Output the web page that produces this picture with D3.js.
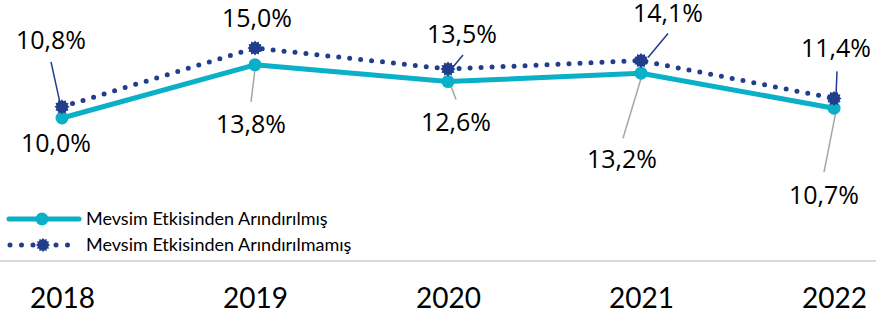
<!DOCTYPE html>
<html>
<head>
<meta charset="utf-8">
<script src="https://cdn.jsdelivr.net/npm/d3@7"></script>
<style>
  body { margin: 0; background: #fff; }
  svg { display: block; font-family: Lato, "Open Sans", sans-serif; }
</style>
</head>
<body>
<div id="chart"></div>
<script>
const years = ["2018", "2019", "2020", "2021", "2022"];
const adjusted = [10.0, 13.8, 12.6, 13.2, 10.7];     // Mevsim Etkisinden Arındırılmış
const unadjusted = [10.8, 15.0, 13.5, 14.1, 11.4];   // Mevsim Etkisinden Arındırılmamış
const seriesNames = ["Mevsim Etkisinden Arındırılmış", "Mevsim Etkisinden Arındırılmamış"];

const width = 876, height = 316;
const cyan = "#0aafc8", navy = "#213e8c";

// label placement: [dx, dy of baseline] from the point, leader [x1,y1,x2,y2] relative to point (null = none)
const adjLabelPos = [[-6, 34, null], [-4, 68, [-4, 37, 0, 4]], [8, 49, [8, 18, 2, 2]], [-19, 95, [-18, 65, 1, 2]], [-10, 96, [-10, 64, 2, 3]]];
const unadjLabelPos = [[-11, -58, [-11, -45, -2, -4]], [2, -21, null], [14, -26, [15, -14, 5, -2]], [27, -39, [27, -27, 7, -3]], [2, -41, [3, -27, 2, -3]]];

const svg = d3.select("#chart").append("svg")
  .attr("width", width).attr("height", height);

const x = d3.scalePoint().domain(years).range([62, 834]);
const y = d3.scaleLinear().domain([0, 18]).range([258, 6]);

// baseline
svg.append("line")
  .attr("x1", 0).attr("x2", width)
  .attr("y1", 261).attr("y2", 261)
  .attr("stroke", "#d9d9d9").attr("stroke-width", 2);

// x axis labels
const xAxis = d3.axisBottom(x).tickSize(0).tickPadding(0);
const gx = svg.append("g").attr("transform", "translate(0,288)").call(xAxis);
gx.select(".domain").remove();
gx.selectAll("text")
  .attr("font-family", "Lato, sans-serif")
  .attr("font-size", 28).attr("fill", "#000").attr("dy", "0.71em");

function gear(r1, r2, n) {
  const pts = [];
  for (let i = 0; i < n * 2; i++) {
    const a = Math.PI * i / n;
    const r = i % 2 ? r2 : r1;
    pts.push([Math.sin(a) * r, -Math.cos(a) * r]);
  }
  return d3.line().curve(d3.curveLinearClosed)(pts);
}

const line = d3.line().x((d, i) => x(years[i])).y(d => y(d));

// leaders
function leaders(vals, pos, color) {
  svg.append("g").selectAll("line")
    .data(vals.map((v, i) => ({ v, i, p: pos[i] })).filter(d => d.p[2]))
    .join("line")
    .attr("x1", d => x(years[d.i]) + d.p[2][0])
    .attr("y1", d => y(d.v) + d.p[2][1])
    .attr("x2", d => x(years[d.i]) + d.p[2][2])
    .attr("y2", d => y(d.v) + d.p[2][3])
    .attr("stroke", color).attr("stroke-width", 1.5);
}
leaders(adjusted, adjLabelPos, "#a6a6a6");
leaders(unadjusted, unadjLabelPos, navy);

// adjusted series
svg.append("path").datum(adjusted)
  .attr("d", line).attr("fill", "none")
  .attr("stroke", cyan).attr("stroke-width", 5).attr("stroke-linejoin", "round");
svg.append("g").selectAll("circle").data(adjusted).join("circle")
  .attr("cx", (d, i) => x(years[i])).attr("cy", d => y(d))
  .attr("r", 6.5).attr("fill", cyan);

// unadjusted series
svg.append("path").datum(unadjusted)
  .attr("d", line).attr("fill", "none")
  .attr("stroke", navy).attr("stroke-width", 5)
  .attr("stroke-linecap", "round").attr("stroke-dasharray", "0 11");
svg.append("g").selectAll("path").data(unadjusted).join("path")
  .attr("d", gear(7.5, 5.8, 12))
  .attr("transform", (d, i) => `translate(${x(years[i])},${y(d)})`)
  .attr("fill", navy);

// data labels
const fmt = v => v.toFixed(1).replace(".", ",") + "%";
function labels(vals, pos) {
  svg.append("g").selectAll("text").data(vals).join("text")
    .attr("x", (d, i) => x(years[i]) + pos[i][0])
    .attr("y", (d, i) => y(d) + pos[i][1])
    .attr("text-anchor", "middle")
    .attr("font-family", "'Open Sans', sans-serif")
    .attr("font-size", 25).attr("fill", "#000")
    .text(fmt);
}
labels(adjusted, adjLabelPos);
labels(unadjusted, unadjLabelPos);

// legend
const lg = svg.append("g");
lg.append("line").attr("x1", 9).attr("x2", 79).attr("y1", 219).attr("y2", 219)
  .attr("stroke", cyan).attr("stroke-width", 5).attr("stroke-linecap", "round");
lg.append("circle").attr("cx", 42).attr("cy", 219).attr("r", 6.5).attr("fill", cyan);
lg.append("line").attr("x1", 10).attr("x2", 72).attr("y1", 245).attr("y2", 245)
  .attr("stroke", navy).attr("stroke-width", 5)
  .attr("stroke-linecap", "round").attr("stroke-dasharray", "0 11.5");
lg.append("path").attr("d", gear(7, 5.4, 12)).attr("transform", "translate(43,245)").attr("fill", navy);
lg.selectAll("text").data(seriesNames).join("text")
  .attr("x", 86).attr("y", (d, i) => 225 + i * 26)
  .attr("font-size", 18).attr("fill", "#000")
  .text(d => d);
</script>
</body>
</html>
